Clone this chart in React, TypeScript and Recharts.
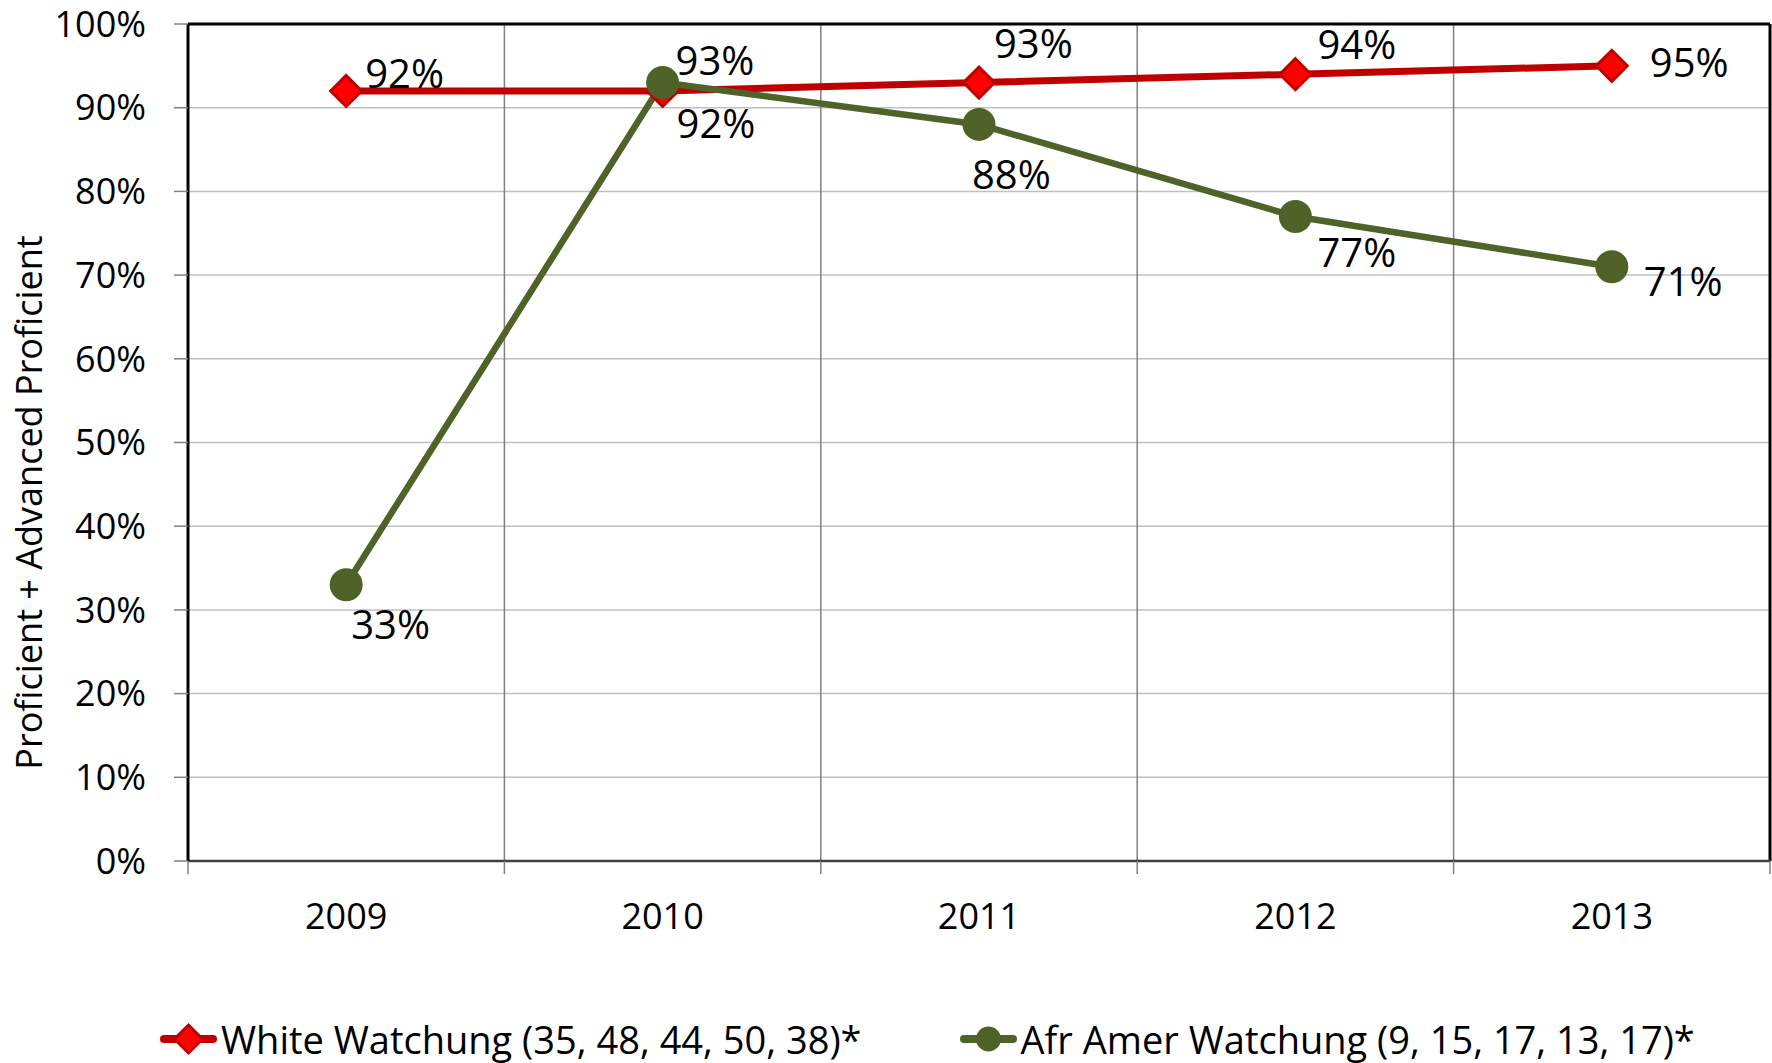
import React from 'react';
import { LineChart, Line, XAxis, YAxis, CartesianGrid, ReferenceLine, LabelList, Legend } from 'recharts';

const years = ['2009', '2010', '2011', '2012', '2013'];
const whiteValues = [92, 92, 93, 94, 95];
const afrValues = [33, 93, 88, 77, 71];
const yTicks = [0, 10, 20, 30, 40, 50, 60, 70, 80, 90, 100];
const whiteName = 'White Watchung (35, 48, 44, 50, 38)*';
const afrName = 'Afr Amer Watchung (9, 15, 17, 13, 17)*';
const yAxisTitle = 'Proficient + Advanced Proficient';
const seriesOrder = ['white', 'afr'];

// label placement (relative to the point): [dx to label start, dy to label middle]
const whiteLabelOffsets = [[19, -18], [14, 32], [15, -40], [22, -31], [38, -4]];
const afrLabelOffsets = [[5, 39], [13, -23], [-7, 49], [22, 35], [32, 14]];

const data = years.map((year, i) => ({ x: i + 0.5, year, white: whiteValues[i], afr: afrValues[i] }));
const xTicks: number[] = [];
for (let i = 0; i <= years.length; i++) {
  xTicks.push(i);
  if (i < years.length) xTicks.push(i + 0.5);
}
const boundaries = years.slice(1).map((_, i) => i + 1);

const TICK_FONT = '"Open Sans", sans-serif';
const NARROW_FONT = '"Open Sans", sans-serif';
const RED = '#C00000';
const GREEN = '#4F6228';

const XTick = (props: any) => {
  const { x, y, payload } = props;
  const v = payload.value;
  if (Number.isInteger(v)) {
    return <line x1={x} x2={x} y1={y} y2={y + 13} stroke="#808080" strokeWidth={1.5} />;
  }
  return (
    <text x={x} y={y + 54} textAnchor="middle" dominantBaseline="central" fontSize={36} fontFamily={TICK_FONT} fill="#000">
      {years[Math.floor(v)]}
    </text>
  );
};

const Diamond = (props: any) => {
  const { cx, cy } = props;
  if (cx == null || cy == null) return null;
  return (
    <path d={`M${cx},${cy - 15.5} L${cx + 15.5},${cy} L${cx},${cy + 15.5} L${cx - 15.5},${cy} Z`} fill="#FF0000" stroke={RED} strokeWidth={3} />
  );
};

const Circle = (props: any) => {
  const { cx, cy } = props;
  if (cx == null || cy == null) return null;
  return <circle cx={cx} cy={cy} r={15.5} fill={GREEN} stroke={GREEN} strokeWidth={2} />;
};

const makeLabel = (offsets: number[][]) => (props: any) => {
  const px = props.x ?? props.viewBox?.x;
  const py = props.y ?? props.viewBox?.y;
  const idx = props.index ?? 0;
  const [dx, dy] = offsets[idx];
  return (
    <text x={px + dx} y={py + dy} dominantBaseline="central" fontSize={40} fontFamily={TICK_FONT} fill="#000">
      {props.value}%
    </text>
  );
};

const LegendIcon = ({ kind }: { kind: string }) => (
  <svg width={57} height={34} style={{ display: 'block' }}>
    <line x1={4} x2={53} y1={17} y2={17} stroke={kind === 'white' ? RED : GREEN} strokeWidth={8} strokeLinecap="round" />
    {kind === 'white' ? (
      <path d="M28.5,3 L42.5,17 L28.5,31 L14.5,17 Z" fill="#FF0000" stroke={RED} strokeWidth={3} />
    ) : (
      <circle cx={28.5} cy={17} r={12.5} fill={GREEN} />
    )}
  </svg>
);

const renderLegend = (props: any) => {
  const payload = [...(props.payload || [])].sort(
    (a: any, b: any) => seriesOrder.indexOf(a.dataKey) - seriesOrder.indexOf(b.dataKey)
  );
  return (
    <div style={{ display: 'flex', alignItems: 'center', paddingLeft: 160, height: 38 }}>
      {payload.map((entry: any, i: number) => (
        <div key={i} style={{ display: 'flex', alignItems: 'center', marginRight: i === 0 ? 98 : 0, height: 38 }}>
          <LegendIcon kind={entry.dataKey === 'white' ? 'white' : 'afr'} />
          <span style={{ fontFamily: NARROW_FONT, fontSize: 38, lineHeight: '38px', color: '#000', marginLeft: 4, whiteSpace: 'nowrap' }}>
            {entry.value}
          </span>
        </div>
      ))}
    </div>
  );
};

const YTitle = (props: any) => {
  const vb = props.viewBox || { x: 0, y: 24, width: 188, height: 837 };
  const cx = 28;
  const cy = vb.y + vb.height / 2 + 60;
  return (
    <text x={cx} y={cy} transform={`rotate(-90, ${cx}, ${cy})`} textAnchor="middle" dominantBaseline="central" fontSize={36} fontFamily={NARROW_FONT} fill="#000">
      {yAxisTitle}
    </text>
  );
};

export default function App() {
  return (
    <div style={{ position: 'absolute', left: 0, top: 0, width: 1772, height: 1063, background: '#fff' }}>
      <LineChart width={1772} height={1063} data={data} margin={{ top: 24, right: 2, bottom: 142, left: 0 }}>
        <CartesianGrid vertical={false} stroke="#BFBFBF" strokeWidth={1.5} />
        {boundaries.map((b) => (
          <ReferenceLine key={b} x={b} stroke="#808080" strokeWidth={1.5} />
        ))}
        <ReferenceLine y={100} stroke="#000" strokeWidth={3} />
        <ReferenceLine x={years.length} stroke="#000" strokeWidth={3} />
        <XAxis
          dataKey="x"
          type="number"
          domain={[0, years.length]}
          ticks={xTicks}
          interval={0}
          tick={<XTick />}
          tickLine={false}
          tickSize={0}
          tickMargin={0}
          height={60}
          axisLine={{ stroke: '#404040', strokeWidth: 2.5 }}
        />
        <YAxis
          type="number"
          domain={[0, 100]}
          ticks={yTicks}
          interval={0}
          width={188}
          tickFormatter={(v: number) => `${v}%`}
          tickSize={14}
          tickMargin={28}
          tickLine={{ stroke: '#808080', strokeWidth: 1.5 }}
          axisLine={{ stroke: '#000', strokeWidth: 3 }}
          tick={{ fontSize: 36, fontFamily: TICK_FONT, fill: '#000' }}
          label={<YTitle />}
        />
        <Legend
          layout="horizontal"
          verticalAlign="middle"
          align="center"
          wrapperStyle={{ top: 1020, left: 0, width: 1772, height: 38 }}
          content={renderLegend}
        />
        <Line
          type="linear"
          dataKey="white"
          name={whiteName}
          stroke={RED}
          strokeWidth={7}
          dot={<Diamond />}
          activeDot={false}
          isAnimationActive={false}
        >
          <LabelList dataKey="white" content={makeLabel(whiteLabelOffsets)} />
        </Line>
        <Line
          type="linear"
          dataKey="afr"
          name={afrName}
          stroke={GREEN}
          strokeWidth={6.5}
          dot={<Circle />}
          activeDot={false}
          isAnimationActive={false}
        >
          <LabelList dataKey="afr" content={makeLabel(afrLabelOffsets)} />
        </Line>
      </LineChart>
    </div>
  );
}
